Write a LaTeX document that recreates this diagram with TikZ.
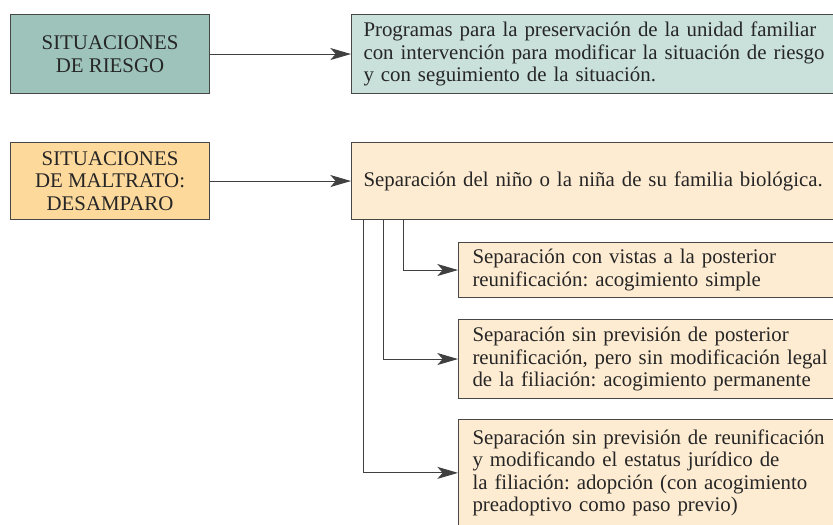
\documentclass[tikz,border=0pt]{standalone}
\usepackage{fontspec}
\setmainfont{Liberation Serif}
\usetikzlibrary{arrows.meta,positioning}

\definecolor{riesgoFuerte}{RGB}{157,195,186}
\definecolor{riesgoSuave}{RGB}{201,224,219}
\definecolor{maltratoFuerte}{RGB}{253,217,156}
\definecolor{maltratoSuave}{RGB}{254,236,210}

\tikzset{
  caja/.style={draw=black!72, line width=0.9pt, anchor=north west,
    inner ysep=0pt, text=black!85,
    font=\fontsize{17.8}{19.3}\selectfont\frenchspacing},
  cajaizq/.style={caja, minimum width=5.97cm, align=center, inner xsep=0pt},
  cajader/.style={caja, text width=16cm, align=left, inner xsep=0.36cm},
  cajasub/.style={caja, fill=maltratoSuave, text width=14cm, align=left, inner xsep=0.42cm},
  flecha/.style={draw=black!75, line width=0.8pt, -{Stealth[length=0.62cm,width=0.36cm,inset=0.16cm]}}
}

\begin{document}
\begin{tikzpicture}[x=0.03cm,y=-0.03cm]
\path[use as bounding box, clip] (0,0) rectangle (833,524);

% primera fila
\node[cajaizq, fill=riesgoFuerte, minimum height=2.37cm] (riesgo) at (10,14)
  {SITUACIONES\\DE RIESGO};
\node[cajader, fill=riesgoSuave, minimum height=2.37cm] (programas) at (351,14)
  {Programas para la preservación de la unidad familiar\\con intervención para modificar la situación de riesgo\\y con seguimiento de la situación.};

% segunda fila
\node[cajaizq, fill=maltratoFuerte, minimum height=2.31cm] (maltrato) at (10,142)
  {SITUACIONES\\DE MALTRATO:\\DESAMPARO};
\node[cajader, fill=maltratoSuave, minimum height=2.31cm] (separacion) at (351,142)
  {Separación del niño o la niña de su familia biológica.};

% tipos de separacion
\node[cajasub, minimum height=1.65cm] (simple) at (458,242)
  {Separación con vistas a la posterior\\reunificación: acogimiento simple};
\node[cajasub, minimum height=2.37cm] (permanente) at (458,319)
  {Separación sin previsión de posterior\\reunificación, pero sin modificación legal\\de la filiación: acogimiento permanente};
\node[cajasub, minimum height=3.2cm] (adopcion) at (458,419)
  {Separación sin previsión de reunificación\\y modificando el estatus jurídico de\\la filiación: adopción (con acogimiento\\preadoptivo como paso previo)};

\draw[flecha] (riesgo) -- (programas);
\draw[flecha] (maltrato) -- (separacion);
\draw[flecha] ([xshift=1.56cm]separacion.south west) |- (simple.west);
\draw[flecha] ([xshift=0.96cm]separacion.south west) |- (permanente.west);
\draw[flecha] ([xshift=0.36cm]separacion.south west) |- (adopcion.west);

\end{tikzpicture}
\end{document}
